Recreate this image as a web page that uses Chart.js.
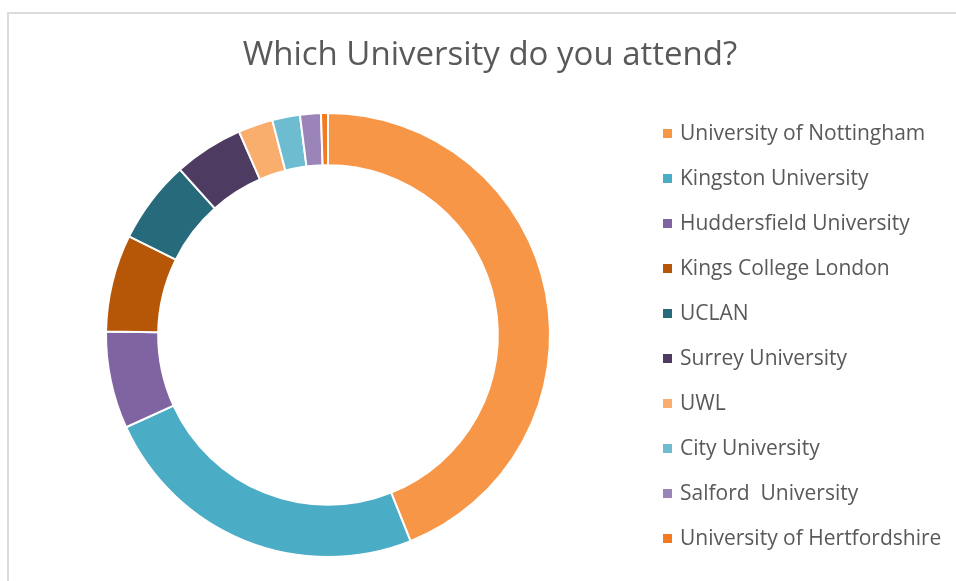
<!DOCTYPE html>
<html lang="en">
<head>
    <meta charset="UTF-8">
    <title>Which University do you attend?</title>
    <script src="https://cdn.jsdelivr.net/npm/chart.js"></script>
    <style>
        html, body {
            margin: 0;
            padding: 0;
            background: #ffffff;
            overflow: hidden;
            font-family: 'Open Sans', sans-serif;
            color: #595959;
        }
        .frame {
            position: absolute;
            left: 7px;
            top: 12px;
            width: 1000px;
            height: 1000px;
            border-top: 2px solid #dcdcdc;
            border-left: 2px solid #dcdcdc;
        }
        #chart {
            position: absolute;
            left: 0;
            top: 0;
        }
        .title {
            position: absolute;
            left: 0;
            top: 32px;
            width: 980px;
            text-align: center;
            font-size: 33px;
            line-height: 42px;
            margin: 0;
            font-weight: normal;
        }
        .legend {
            position: absolute;
            left: 663px;
            top: 110px;
            margin: 0;
            padding: 0;
            list-style: none;
        }
        .legend li {
            height: 45px;
            line-height: 45px;
            font-size: 21px;
            white-space: pre;
        }
        .legend .box {
            display: inline-block;
            width: 9px;
            height: 9px;
            margin-right: 8px;
            vertical-align: middle;
            position: relative;
            top: -1px;
        }
    </style>
</head>
<body>
    <div class="frame"></div>
    <canvas id="chart" width="956" height="581"></canvas>
    <h1 class="title">Which University do you attend?</h1>
    <ul class="legend" id="legend"></ul>

    <script>
        const universities = [
            'University of Nottingham',
            'Kingston University',
            'Huddersfield University',
            'Kings College London',
            'UCLAN',
            'Surrey University',
            'UWL',
            'City University',
            'Salford  University',
            'University of Hertfordshire'
        ];
        const responses = [87, 48, 14, 14, 12, 10, 5, 4, 3, 1];
        const sliceColors = [
            '#F79646', '#4BACC6', '#8064A2', '#B65708', '#276A7B',
            '#4D3B62', '#F9AE6E', '#6DBCD0', '#9B85B8', '#F47B20'
        ];

        const ctx = document.getElementById('chart').getContext('2d');
        const chart = new Chart(ctx, {
            type: 'doughnut',
            data: {
                labels: universities,
                datasets: [{
                    data: responses,
                    backgroundColor: sliceColors,
                    borderColor: '#ffffff',
                    borderWidth: 2
                }]
            },
            options: {
                responsive: false,
                animation: false,
                cutout: '76.5%',
                layout: {
                    // keep the ring on the left, legend sits in the right part
                    padding: { left: 105, right: 405, top: 112, bottom: 23 }
                },
                plugins: {
                    legend: { display: false },
                    tooltip: { enabled: false }
                }
            }
        });

        // html legend built from the chart's own labels
        const legendEl = document.getElementById('legend');
        chart.options.plugins.legend.labels.generateLabels(chart).forEach(item => {
            const li = document.createElement('li');
            const box = document.createElement('span');
            box.className = 'box';
            box.style.background = item.fillStyle;
            li.appendChild(box);
            li.appendChild(document.createTextNode(item.text));
            legendEl.appendChild(li);
        });
    </script>
</body>
</html>
